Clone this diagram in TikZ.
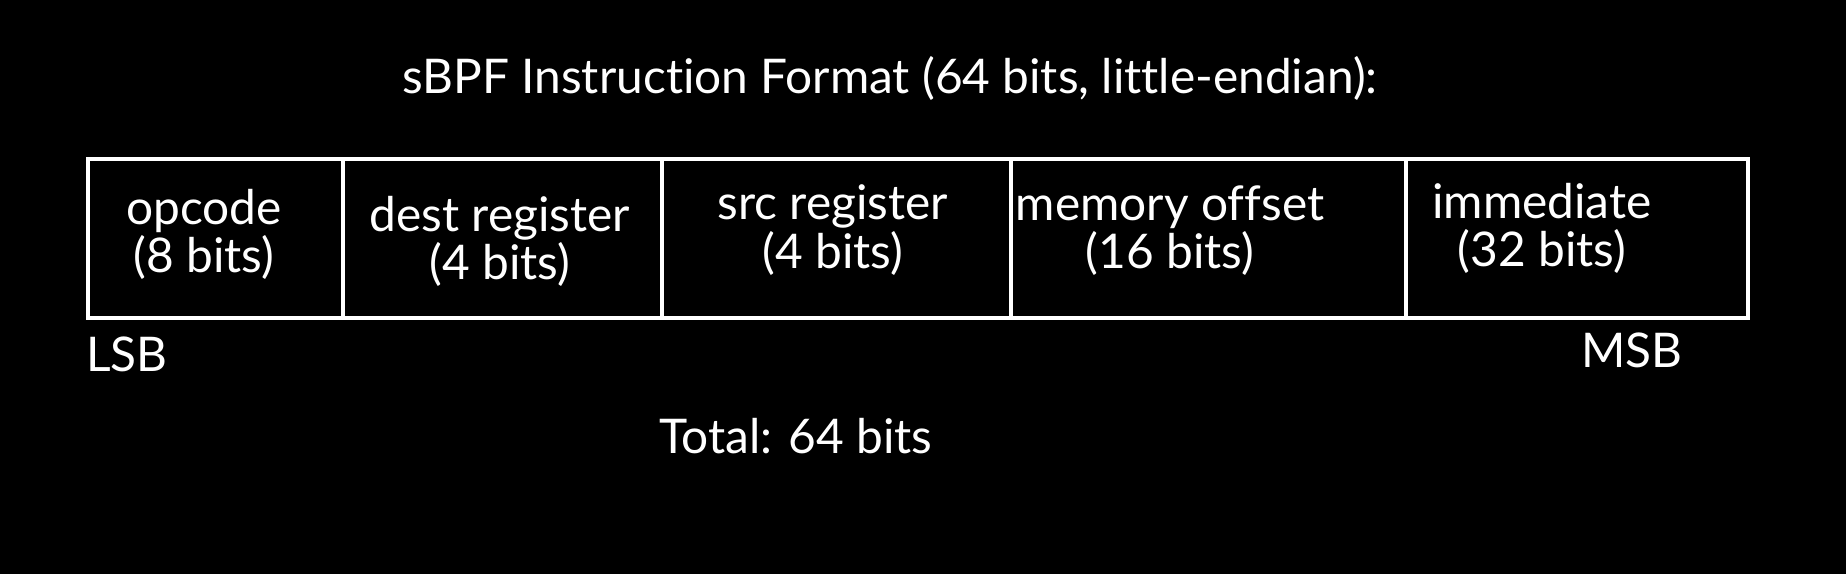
\documentclass[tikz,border=0pt]{standalone}
\usepackage{fontspec}
\setmainfont{Lato}[Ligatures={NoCommon}]
\usetikzlibrary{shapes,arrows,calc}

\begin{document}
\begin{tikzpicture}[auto, outer sep=0pt, node distance=0cm,
    cell/.style={draw=white, line width=0.9pt, minimum height=1.59cm, inner sep=0pt},
    txt/.style={text=white, align=center, font=\fontsize{13.6}{13.7}\selectfont}]

\fill [black] (0, 0) rectangle (18.46, -5.74);

\node [txt] at (8.90, -0.78) (TITLE) {sBPF Instruction Format (64 bits, little-endian):};

% the five fields, LSB first
\node [cell, minimum width=2.55cm] at (2.155, -2.385) (OPCODE) {};
\node [cell, minimum width=3.19cm] at (5.025, -2.385) (DEST_REG) {};
\node [cell, minimum width=3.49cm] at (8.365, -2.385) (SRC_REG) {};
\node [cell, minimum width=3.95cm] at (12.085, -2.385) (MEM_OFF) {};
\node [cell, minimum width=3.42cm] at (15.770, -2.385) (IMM) {};

\node [txt] at (2.04, -2.34) (OPCODE_TXT) {opcode\\(8 bits)};
\node [txt] at (5.00, -2.41) (DEST_TXT) {dest register\\(4 bits)};
\node [txt] at (8.33, -2.30) (SRC_TXT) {src register\\(4 bits)};
\node [txt] at (11.70, -2.31) (MEM_TXT) {memory offset\\(16 bits)};
\node [txt] at (15.42, -2.28) (IMM_TXT) {immediate\\(32 bits)};

\node [txt] at (1.27, -3.54) (LSB) {LSB};
\node [txt] at (16.32, -3.50) (MSB) {MSB};
\node [txt] at (7.96, -4.36) (TOTAL) {Total: 64 bits};
\end{tikzpicture}
\end{document}
